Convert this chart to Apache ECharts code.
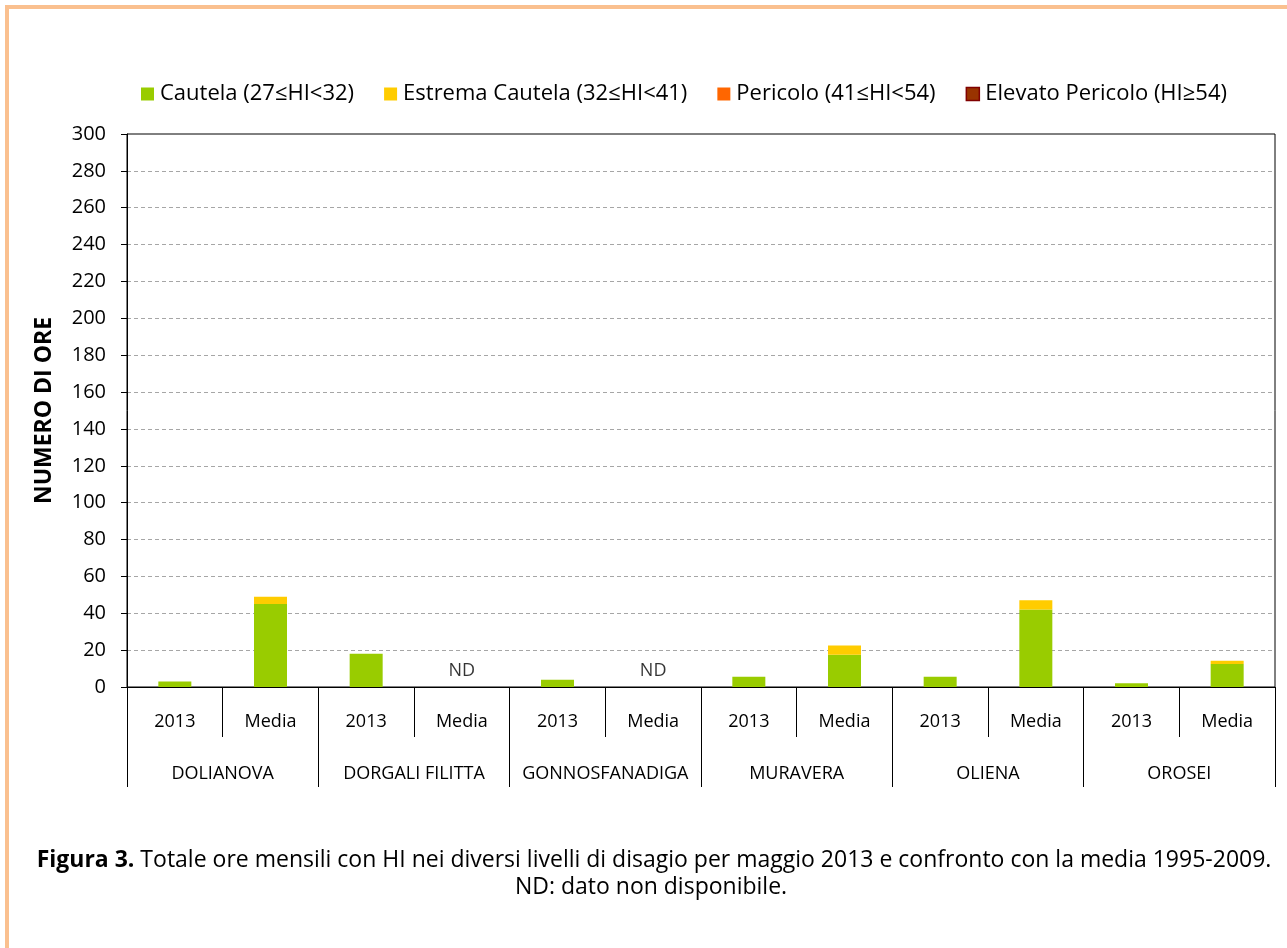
<!DOCTYPE html>
<html>
<head>
<meta charset="utf-8">
<script src="https://cdn.jsdelivr.net/npm/echarts@6/dist/echarts.min.js"></script>
<style>
html,body{margin:0;padding:0;background:#fff;}
#chart{position:absolute;left:0;top:0;width:1287px;height:948px;}
#frame{position:absolute;left:5px;top:5px;width:1300px;height:960px;border-left:4px solid #FAC08F;border-top:4px solid #FAC08F;pointer-events:none;z-index:5;}
</style>
</head>
<body>
<div id="chart"></div>
<div id="frame"></div>
<script>
// ---- data ----
const stations = ['DOLIANOVA', 'DORGALI FILITTA', 'GONNOSFANADIGA', 'MURAVERA', 'OLIENA', 'OROSEI'];
const periods = ['2013', 'Media'];
const categories = ['2013', 'Media', '2013', 'Media', '2013', 'Media', '2013', 'Media', '2013', 'Media', '2013', 'Media'];
const cautela  = [3, 45, 18, null, 4, null, 5.5, 17.5, 5.5, 42, 2, 12.5];
const estrema  = [0, 4, 0, null, 0, null, 0, 5, 0, 5, 0, 1.8];
const pericolo = [0, 0, 0, null, 0, null, 0, 0, 0, 0, 0, 0];
const elevato  = [0, 0, 0, null, 0, null, 0, 0, 0, 0, 0, 0];
const seriesNames = ['Cautela (27≤HI<32)', 'Estrema Cautela (32≤HI<41)', 'Pericolo (41≤HI<54)', 'Elevato Pericolo (HI≥54)'];
const yTicks = {min: 0, max: 300, interval: 20};
const captionBold = 'Figura 3.';
const captionText = ' Totale ore mensili con HI nei diversi livelli di disagio per maggio 2013 e confronto con la media 1995-2009.';
const captionLine2 = 'ND: dato non disponibile.';
const yName = 'NUMERO DI ORE';

const FONT = '"Open Sans", sans-serif';
const ndData = cautela.map(v => v === null ? 0 : null);

const chart = echarts.init(document.getElementById('chart'), null, {renderer: 'canvas'});
const colors = ['#99CC00', '#FFCC00', '#FF6600', '#993300'];
const valuesList = [cautela, estrema, pericolo, elevato];

const barSeries = seriesNames.map((n, i) => ({
  name: n,
  type: 'bar',
  stack: 'tot',
  xAxisIndex: 0,
  barWidth: 33,
  data: valuesList[i],
  itemStyle: {color: colors[i], borderWidth: 0},
  emphasis: {disabled: true}
}));

const option = {
  animation: false,
  backgroundColor: '#fff',
  textStyle: {fontFamily: FONT, color: '#000'},
  legend: {
    data: seriesNames.map((n, i) => ({name: n, itemStyle: {color: colors[i], borderColor: i === 3 ? '#800000' : colors[i], borderWidth: i === 3 ? 1.5 : 0}})),
    top: 78,
    left: 136,
    itemWidth: 13,
    itemHeight: 13,
    itemGap: 30,
    icon: 'rect',
    textStyle: {fontFamily: FONT, fontSize: 22, color: '#000', padding: [0, 0, 0, 1]},
    selectedMode: false
  },
  grid: {
    left: 127, right: 12, top: 134, bottom: 261,
    show: true, borderColor: '#000', borderWidth: 1, backgroundColor: 'transparent'
  },
  xAxis: [
    {
      type: 'category',
      data: categories,
      position: 'bottom',
      axisLine: {lineStyle: {color: '#000', width: 1}},
      axisTick: {show: true, length: 50, interval: 0, lineStyle: {color: '#000'}},
      axisLabel: {interval: 0, margin: 26, fontSize: 18, color: '#000', fontFamily: FONT},
      splitLine: {show: false}
    },
    {
      type: 'category',
      data: stations,
      position: 'bottom',
      axisLine: {show: true, lineStyle: {color: '#000', width: 1}},
      axisTick: {show: true, length: 100, interval: 0, lineStyle: {color: '#000'}},
      axisLabel: {interval: 0, margin: 78, fontSize: 18, color: '#000', fontFamily: FONT},
      splitLine: {show: false}
    }
  ],
  yAxis: {
    type: 'value',
    min: yTicks.min, max: yTicks.max, interval: yTicks.interval,
    name: yName,
    nameLocation: 'middle',
    nameGap: 71,
    nameTextStyle: {fontWeight: 'bold', fontSize: 23, color: '#000', fontFamily: FONT},
    axisLine: {show: true, lineStyle: {color: '#000'}},
    axisTick: {show: true, length: 6, lineStyle: {color: '#000'}},
    axisLabel: {fontSize: 20, color: '#000', margin: 21, fontFamily: FONT},
    splitLine: {show: true, showMaxLine: false, lineStyle: {color: '#A6A6A6', type: [4, 3], width: 1}}
  },
  series: barSeries.concat([{
    name: 'ND',
    type: 'scatter',
    xAxisIndex: 0,
    data: ndData,
    symbolSize: 0,
    silent: true,
    label: {show: true, position: 'top', distance: 7, formatter: 'ND', fontSize: 18, color: '#000', fontFamily: FONT}
  }]),
  graphic: [{
    type: 'text',
    x: 654,
    y: 860,
    style: {
      text: '{b|' + captionBold + '}' + captionText,
      align: 'center',
      verticalAlign: 'middle',
      fontFamily: FONT,
      fontSize: 23,
      fill: '#000',
      rich: {b: {fontWeight: 'bold', fontFamily: FONT, fontSize: 23}}
    }
  }, {
    type: 'text',
    x: 651,
    y: 887,
    style: {
      text: captionLine2,
      align: 'center',
      verticalAlign: 'middle',
      fontFamily: FONT,
      fontSize: 23,
      fill: '#000'
    }
  }]
};
chart.setOption(option);
</script>
</body>
</html>
